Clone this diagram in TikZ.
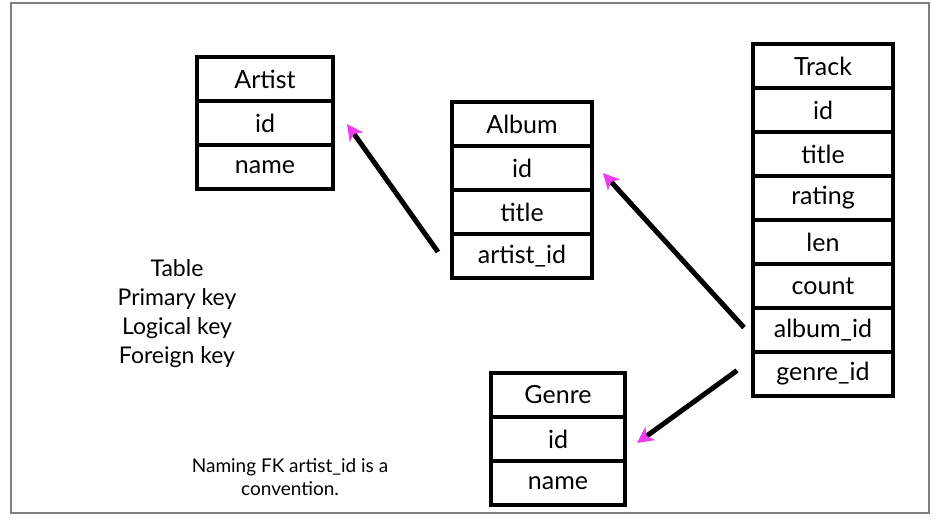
\documentclass[tikz,border=0pt]{standalone}
\usepackage{fontspec}
\setmainfont{Lato}
\usetikzlibrary{positioning,arrows.meta}
\definecolor{fkpink}{RGB}{240,60,240}
\tikzset{
	cell/.style={draw, line width=2.2pt, outer sep=0pt, inner sep=0pt, minimum height=22pt,
		font=\fontsize{12.5}{14}\selectfont},
	fk/.style={line width=2.5pt, -{Stealth[length=8pt,width=8pt,inset=2pt,color=fkpink]}}
}
\begin{document}
\begin{tikzpicture}[x=0.5pt,y=-0.5pt]
	\useasboundingbox (0,0) rectangle (941,524);
	\draw[gray, line width=0.6pt] (11,3) rectangle (929,513);
%
	\begin{scope}[every node/.append style={cell, minimum width=68pt}]
		\node (artist) at (265,79) {Artist};
		\node (artistId) [below=0pt of artist] {id};
		\node (artistName) [below=0pt of artistId] {name};
	\end{scope}
	\begin{scope}[every node/.append style={cell, minimum width=70pt}]
		\node (album) at (522,124) {Album};
		\node (albumId) [below=0pt of album] {id};
		\node (albumTitle) [below=0pt of albumId] {title};
		\node (albumArtistId) [below=0pt of albumTitle] {artist\_id};
	\end{scope}
	\begin{scope}[every node/.append style={cell, minimum width=70pt}]
		\node (track) at (823,66) {Track};
		\node (trackId) [below=0pt of track] {id};
		\node (trackTitle) [below=0pt of trackId] {title};
		\node (trackRating) [below=0pt of trackTitle] {rating};
		\node (trackLen) [below=0pt of trackRating] {len};
		\node (trackCount) [below=0pt of trackLen] {count};
		\node (trackAlbumId) [below=0pt of trackCount] {album\_id};
		\node (trackGenreId) [below=0pt of trackAlbumId] {genre\_id};
	\end{scope}
	\begin{scope}[every node/.append style={cell, minimum width=67pt}]
		\node (genre) at (558,395) {Genre};
		\node (genreId) [below=0pt of genre] {id};
		\node (genreName) [below=0pt of genreId] {name};
	\end{scope}
%
	\node (legend) [align=center, font=\fontsize{11.5}{14.5}\selectfont] at (177,314)
		{Table\\Primary key\\Logical key\\Foreign key};
	\node (note) [align=center, font=\fontsize{9.5}{11.5}\selectfont] at (290,477)
		{Naming FK artist\_id is a\\convention.};
%
	\draw[fk] ([xshift=-7pt,yshift=2pt]albumArtistId.west) -- ([xshift=7pt,yshift=-0.5pt]artistId.east);
	\draw[fk] ([xshift=-4.5pt,yshift=1.2pt]trackAlbumId.west) -- ([xshift=5.5pt,yshift=-2.5pt]albumId.east);
	\draw[fk] ([xshift=-8pt,yshift=1.75pt]trackGenreId.west) -- ([xshift=6pt,yshift=-2pt]genreId.east);
\end{tikzpicture}
\end{document}
